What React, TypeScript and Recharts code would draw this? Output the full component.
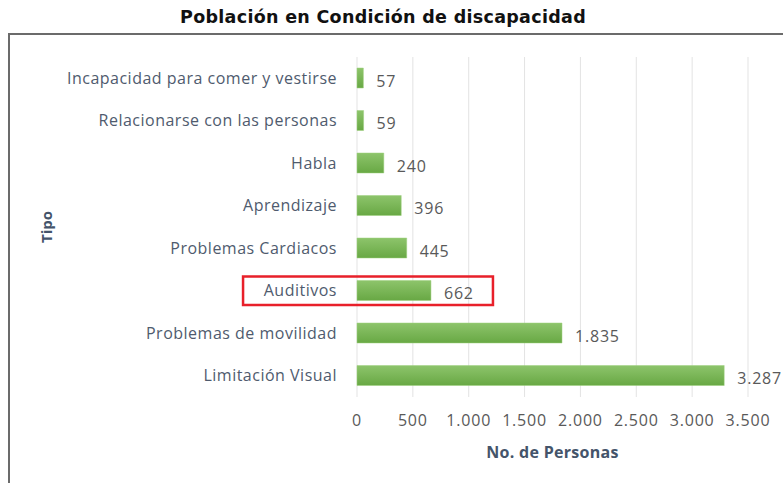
import React from 'react';
import { BarChart, Bar, XAxis, YAxis, CartesianGrid, LabelList, Label, ReferenceArea } from 'recharts';

const categories = [
  'Incapacidad para comer y vestirse',
  'Relacionarse con las personas',
  'Habla',
  'Aprendizaje',
  'Problemas Cardiacos',
  'Auditivos',
  'Problemas de movilidad',
  'Limitación Visual',
];
const personas = [57, 59, 240, 396, 445, 662, 1835, 3287];
const xTicks = [0, 500, 1000, 1500, 2000, 2500, 3000, 3500];
const highlightCategory = 'Auditivos';
const highlightRange = [-1020, 1217];

const data = categories.map((c, i) => ({ tipo: c, personas: personas[i] }));

const fmt = (v: number) => String(Math.round(v)).replace(/\B(?=(\d{3})+(?!\d))/g, '.');

const LABEL_COLOR = '#4f5b6e';
const TITLE_COLOR = '#44546a';

const HighlightShape = (props: any) => {
  const { x, y, width, height } = props;
  const pad = 7;
  return (
    <rect x={x} y={y + pad} width={width} height={height - 2 * pad} fill="none" stroke="#e8202a" strokeWidth={2.5} />
  );
};

export default function App() {
  return (
    <div style={{ position: 'absolute', left: 0, top: 0, width: 783, height: 483, background: '#fff' }}>
      <div
        style={{
          position: 'absolute',
          left: 8,
          top: 33,
          width: 775,
          height: 450,
          borderLeft: '2px solid #6b6b6b',
          borderTop: '2px solid #6b6b6b',
          boxSizing: 'border-box',
        }}
      />
      <div
        style={{
          position: 'absolute',
          left: 0,
          top: 5,
          width: 766,
          textAlign: 'center',
          fontFamily: '"DejaVu Sans", sans-serif',
          fontWeight: 'bold',
          fontSize: 17.5,
          letterSpacing: 0.3,
          color: '#111',
          lineHeight: '24px',
        }}
      >
        Población en Condición de discapacidad
      </div>
      <div style={{ position: 'absolute', left: 0, top: 0 }}>
        <BarChart
          width={783}
          height={483}
          data={data}
          layout="vertical"
          margin={{ top: 57, right: 35, bottom: 0, left: 0 }}
          barSize={20}
          style={{ fontFamily: '"Open Sans", sans-serif' }}
        >
          <defs>
            <linearGradient id="barGrad" x1="0" y1="0" x2="0" y2="1">
              <stop offset="0%" stopColor="#8dc46b" />
              <stop offset="100%" stopColor="#68a844" />
            </linearGradient>
          </defs>
          <CartesianGrid horizontal={false} stroke="#e3e3e3" strokeWidth={1} />
          <XAxis
            type="number"
            domain={[0, 3500]}
            ticks={xTicks}
            tickFormatter={fmt}
            axisLine={false}
            tickLine={false}
            tickSize={0}
            tickMargin={18}
            height={86}
            tick={{ fill: '#595959', fontSize: 16, letterSpacing: 0.8 }}
          >
            <Label
              value="No. de Personas"
              position="insideBottom"
              offset={25}
              style={{ fill: TITLE_COLOR, fontWeight: 'bold', fontSize: 16, letterSpacing: 0.3 }}
            />
          </XAxis>
          <YAxis
            type="category"
            dataKey="tipo"
            width={357}
            axisLine={false}
            tickLine={false}
            tickSize={0}
            tickMargin={20}
            interval={0}
            tick={{ fill: LABEL_COLOR, fontSize: 16, letterSpacing: 0.5 }}
          >
            <Label
              value="Tipo"
              angle={-90}
              position="insideLeft"
              offset={47}
              style={{ fill: TITLE_COLOR, fontWeight: 'bold', fontSize: 15, textAnchor: 'middle' }}
            />
          </YAxis>
          <ReferenceArea
            x1={highlightRange[0]}
            x2={highlightRange[1]}
            y1={highlightCategory}
            y2={highlightCategory}
            ifOverflow="visible"
            shape={HighlightShape}
          />
          <Bar dataKey="personas" fill="url(#barGrad)" stroke="#9fd07e" strokeWidth={0.5} isAnimationActive={false}>
            <LabelList
              dataKey="personas"
              position="right"
              offset={13}
              formatter={(v: any) => fmt(Number(v))}
              style={{ fill: '#595959', fontSize: 16, letterSpacing: 0.8 }}
              dy={3}
            />
          </Bar>
        </BarChart>
      </div>
    </div>
  );
}
